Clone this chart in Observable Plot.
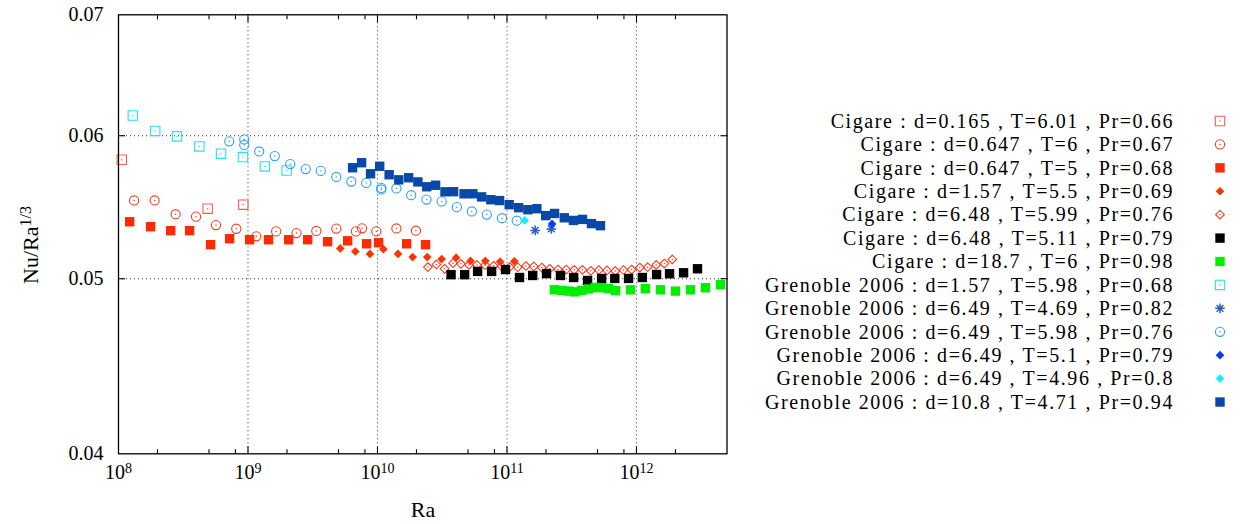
<!DOCTYPE html>
<html>
<head>
<meta charset="utf-8">
<script src="https://cdn.jsdelivr.net/npm/d3@7"></script>
<script src="https://cdn.jsdelivr.net/npm/@observablehq/plot@0.6"></script>
<style>
  body { margin: 0; background: #fff; }
  #chart svg { display: block; }
  #chart svg text { font-family: "Liberation Serif", serif; }
</style>
</head>
<body>
<div id="chart"></div>
<script>
// ---- Measurements: Nu/Ra^(1/3) versus Ra -------------------------------

// Cigare : d=0.165 , T=6.01 , Pr=0.66
const cigare1Ra = [1.06e8, 4.88e8, 9.20e8];
const cigare1Nu = [0.05819, 0.05467, 0.05495];

// Cigare : d=0.647 , T=6 , Pr=0.67
const cigare2Ra = [1.32e8, 1.90e8, 2.76e8, 3.97e8, 5.66e8, 8.12e8, 1.16e9, 1.65e9, 2.37e9, 3.37e9, 4.81e9, 6.82e9, 7.59e9, 9.79e9, 1.40e10, 1.98e10];
const cigare2Nu = [0.05525, 0.05525, 0.05429, 0.05412, 0.05354, 0.05329, 0.05278, 0.05311, 0.05300, 0.05314, 0.05330, 0.05311, 0.05332, 0.05311, 0.05331, 0.05316];

// Cigare : d=0.647 , T=5 , Pr=0.68
const cigare3Ra = [1.22e8, 1.77e8, 2.53e8, 3.54e8, 5.14e8, 7.21e8, 1.03e9, 1.44e9, 2.06e9, 2.89e9, 4.12e9, 5.88e9, 8.24e9, 1.02e10, 1.68e10, 2.35e10];
const cigare3Nu = [0.05377, 0.05343, 0.05316, 0.05316, 0.05222, 0.05262, 0.05255, 0.05255, 0.05255, 0.05255, 0.05242, 0.05248, 0.05228, 0.05235, 0.05228, 0.05222];

// Cigare : d=1.57 , T=5.5 , Pr=0.69
const cigare4Ra = [5.16e9, 6.74e9, 8.75e9, 1.11e10, 1.44e10, 1.87e10, 2.42e10, 3.13e10, 4.05e10, 5.23e10, 6.80e10, 8.85e10, 1.14e11];
const cigare4Nu = [0.05197, 0.05177, 0.05161, 0.05192, 0.05161, 0.05140, 0.05140, 0.05127, 0.05136, 0.05115, 0.05115, 0.05110, 0.05112];

// Cigare : d=6.48 , T=5.99 , Pr=0.76
const cigare5Ra = [2.45e10, 2.85e10, 3.30e10, 3.83e10, 4.41e10, 5.09e10, 5.87e10, 6.80e10, 7.88e10, 9.09e10, 1.05e11, 1.21e11, 1.40e11, 1.61e11, 1.86e11, 2.14e11, 2.48e11, 2.87e11, 3.31e11, 3.83e11, 4.44e11, 5.12e11, 5.92e11, 6.86e11, 7.93e11, 9.17e11, 1.06e12, 1.22e12, 1.42e12, 1.64e12, 1.89e12];
const cigare5Nu = [0.05075, 0.05092, 0.05064, 0.05100, 0.05096, 0.05089, 0.05089, 0.05087, 0.05083, 0.05079, 0.05075, 0.05074, 0.05082, 0.05079, 0.05072, 0.05064, 0.05059, 0.05059, 0.05057, 0.05057, 0.05051, 0.05056, 0.05053, 0.05050, 0.05056, 0.05059, 0.05072, 0.05074, 0.05089, 0.05098, 0.05125];

// Cigare : d=6.48 , T=5.11 , Pr=0.79
const cigare6Ra = [3.70e10, 4.71e10, 5.93e10, 7.61e10, 9.74e10, 1.25e11, 1.58e11, 2.02e11, 2.59e11, 3.27e11, 4.19e11, 5.38e11, 6.80e11, 8.69e11, 1.11e12, 1.43e12, 1.80e12, 2.31e12, 2.96e12];
const cigare6Nu = [0.05026, 0.05026, 0.05047, 0.05047, 0.05059, 0.05008, 0.05021, 0.05033, 0.05021, 0.05008, 0.04989, 0.05002, 0.05002, 0.05002, 0.05008, 0.05027, 0.05032, 0.05038, 0.05064];

// Cigare : d=18.7 , T=6 , Pr=0.98
const cigare7Ra = [2.32e11, 2.65e11, 3.00e11, 3.34e11, 3.78e11, 4.27e11, 4.81e11, 5.42e11, 6.09e11, 6.90e11, 8.99e11, 1.17e12, 1.53e12, 2.00e12, 2.61e12, 3.41e12, 4.45e12];
const cigare7Nu = [0.04930, 0.04926, 0.04922, 0.04917, 0.04926, 0.04935, 0.04945, 0.04943, 0.04937, 0.04925, 0.04930, 0.04937, 0.04930, 0.04922, 0.04930, 0.04943, 0.04962];

// Grenoble 2006 : d=1.57 , T=5.98 , Pr=0.68
const grenoble1Ra = [1.29e8, 1.92e8, 2.83e8, 4.21e8, 6.19e8, 9.15e8, 1.35e9, 1.99e9];
const grenoble1Nu = [0.06157, 0.06037, 0.05995, 0.05919, 0.05864, 0.05839, 0.05770, 0.05740];

// Grenoble 2006 : d=6.49 , T=4.69 , Pr=0.82
const grenoble2Ra = [1.65e11, 2.20e11];
const grenoble2Nu = [0.05318, 0.05328];

// Grenoble 2006 : d=6.49 , T=5.98 , Pr=0.76
const grenoble3Ra = [7.17e8, 9.36e8, 9.36e8, 1.22e9, 1.61e9, 2.12e9, 2.79e9, 3.65e9, 4.81e9, 6.28e9, 8.19e9, 1.07e10, 1.07e10, 1.40e10, 1.82e10, 2.39e10, 3.13e10, 4.10e10, 5.35e10, 6.98e10, 9.15e10, 1.19e11];
const grenoble3Nu = [0.05957, 0.05972, 0.05930, 0.05881, 0.05846, 0.05787, 0.05750, 0.05737, 0.05693, 0.05660, 0.05650, 0.05614, 0.05603, 0.05610, 0.05562, 0.05531, 0.05518, 0.05478, 0.05448, 0.05426, 0.05401, 0.05384];

// Grenoble 2006 : d=6.49 , T=5.1 , Pr=0.79
const grenoble4Ra = [2.23e11];
const grenoble4Nu = [0.05362];

// Grenoble 2006 : d=6.49 , T=4.96 , Pr=0.8
const grenoble5Ra = [1.37e11];
const grenoble5Nu = [0.05386];

// Grenoble 2006 : d=10.8 , T=4.71 , Pr=0.94
const grenoble6Ra = [6.42e9, 7.54e9, 8.84e9, 1.04e10, 1.23e10, 1.46e10, 1.74e10, 2.05e10, 2.40e10, 2.81e10, 3.32e10, 3.87e10, 4.66e10, 5.45e10, 6.37e10, 7.50e10, 8.77e10, 1.04e11, 1.23e11, 1.45e11, 1.70e11, 1.99e11, 2.33e11, 2.77e11, 3.26e11, 3.83e11, 4.49e11, 5.27e11];
const grenoble6Nu = [0.05760, 0.05797, 0.05716, 0.05771, 0.05709, 0.05672, 0.05687, 0.05657, 0.05622, 0.05633, 0.05586, 0.05587, 0.05572, 0.05572, 0.05550, 0.05530, 0.05524, 0.05495, 0.05474, 0.05460, 0.05467, 0.05419, 0.05434, 0.05404, 0.05386, 0.05393, 0.05364, 0.05350];

// Legend texts, in plotting order
const seriesNames = [
  "Cigare : d=0.165 , T=6.01 , Pr=0.66",
  "Cigare : d=0.647 , T=6 , Pr=0.67",
  "Cigare : d=0.647 , T=5 , Pr=0.68",
  "Cigare : d=1.57 , T=5.5 , Pr=0.69",
  "Cigare : d=6.48 , T=5.99 , Pr=0.76",
  "Cigare : d=6.48 , T=5.11 , Pr=0.79",
  "Cigare : d=18.7 , T=6 , Pr=0.98",
  "Grenoble 2006 : d=1.57 , T=5.98 , Pr=0.68",
  "Grenoble 2006 : d=6.49 , T=4.69 , Pr=0.82",
  "Grenoble 2006 : d=6.49 , T=5.98 , Pr=0.76",
  "Grenoble 2006 : d=6.49 , T=5.1 , Pr=0.79",
  "Grenoble 2006 : d=6.49 , T=4.96 , Pr=0.8",
  "Grenoble 2006 : d=10.8 , T=4.71 , Pr=0.94"
];

// Axis ticks
const decadeTicks = [1e8, 1e9, 1e10, 1e11, 1e12];
const gridRa = [1e9, 1e10, 1e11, 1e12];
const minorRa = [2e8, 5e8, 8e8, 2e9, 5e9, 8e9, 2e10, 5e10, 8e10, 2e11, 5e11, 8e11, 2e12];
const nuTicks = [0.04, 0.05, 0.06, 0.07];
const nuGrid = [0.05, 0.06];

// ---- Marker styles ------------------------------------------------------

// eight-armed star (a "+" and an "x" on top of each other)
const star8 = {
  draw(context, size) {
    const r = Math.sqrt(size / Math.PI);
    const d = r * Math.SQRT1_2;
    context.moveTo(-r, 0); context.lineTo(r, 0);
    context.moveTo(0, -r); context.lineTo(0, r);
    context.moveTo(-d, -d); context.lineTo(d, d);
    context.moveTo(-d, d); context.lineTo(d, -d);
  }
};

const markerStyles = [
  {symbol: d3.symbolSquare2, r: 6.0, stroke: "#f2604e", centre: true},
  {symbol: d3.symbolCircle, r: 4.6, stroke: "#ff3a1c", centre: true},
  {symbol: d3.symbolSquare, r: 5.3, fill: "#ff2a00"},
  {symbol: d3.symbolDiamond2, r: 3.9, fill: "#ff3300"},
  {symbol: d3.symbolDiamond2, r: 3.9, stroke: "#ff3a1c", centre: true},
  {symbol: d3.symbolSquare, r: 5.3, fill: "#000000"},
  {symbol: d3.symbolSquare, r: 5.3, fill: "#00ee00"},
  {symbol: d3.symbolSquare2, r: 6.0, stroke: "#20e4f2", centre: true},
  {symbol: star8, r: 4.8, stroke: "#2d5fb8", width: 1.5},
  {symbol: d3.symbolCircle, r: 4.6, stroke: "#27a3f5", centre: true},
  {symbol: d3.symbolDiamond2, r: 3.9, fill: "#0a3cf5"},
  {symbol: d3.symbolDiamond2, r: 3.9, fill: "#18eef8"},
  {symbol: d3.symbolSquare, r: 5.3, fill: "#0748a8"}
];

const seriesData = [
  [cigare1Ra, cigare1Nu], [cigare2Ra, cigare2Nu], [cigare3Ra, cigare3Nu],
  [cigare4Ra, cigare4Nu], [cigare5Ra, cigare5Nu], [cigare6Ra, cigare6Nu],
  [cigare7Ra, cigare7Nu], [grenoble1Ra, grenoble1Nu], [grenoble2Ra, grenoble2Nu],
  [grenoble3Ra, grenoble3Nu], [grenoble4Ra, grenoble4Nu], [grenoble5Ra, grenoble5Nu],
  [grenoble6Ra, grenoble6Nu]
].map(([ra, nu]) => ra.map((Ra, i) => ({Ra, Nu: nu[i]})));

const dotMarks = seriesData.flatMap((rows, i) => {
  const s = markerStyles[i];
  const marks = [
    Plot.dot(rows, {
      x: "Ra", y: "Nu", symbol: s.symbol, r: s.r,
      fill: s.fill ?? "none", stroke: s.stroke ?? "none", strokeWidth: s.width ?? 1.1
    })
  ];
  if (s.centre) marks.push(Plot.dot(rows, {x: "Ra", y: "Nu", r: 0.75, fill: s.stroke, stroke: "none"}));
  return marks;
});

const noText = () => "";
const dotted = {stroke: "#000", strokeOpacity: 0.8, strokeDasharray: "1,3"};
const serif = "Liberation Serif";

const svg = Plot.plot({
  width: 1243,
  height: 524,
  marginLeft: 118,
  marginRight: 516.5,
  marginTop: 14.3,
  marginBottom: 70.7,
  style: {fontFamily: serif, fontSize: "20px", background: "#fff", color: "#000", overflow: "visible"},
  x: {type: "log", domain: [1e8, 5e12]},
  y: {type: "log", domain: [0.04, 0.07]},
  marks: [
    Plot.ruleX(gridRa, dotted),
    Plot.ruleY(nuGrid, dotted),
    Plot.axisX({anchor: "bottom", ticks: gridRa, tickSize: -7, tickFormat: noText, label: null, strokeWidth: 1.1}),
    Plot.axisX({anchor: "top", ticks: gridRa, tickSize: -7, tickFormat: noText, label: null, strokeWidth: 1.1}),
    Plot.axisX({anchor: "bottom", ticks: minorRa, tickSize: -4, tickFormat: noText, label: null, strokeWidth: 1.1}),
    Plot.axisX({anchor: "top", ticks: minorRa, tickSize: -4, tickFormat: noText, label: null, strokeWidth: 1.1}),
    Plot.axisY({anchor: "left", ticks: nuGrid, tickSize: -7, tickFormat: noText, label: null, strokeWidth: 1.1}),
    Plot.axisY({anchor: "right", ticks: nuGrid, tickSize: -7, tickFormat: noText, label: null, strokeWidth: 1.1}),
    Plot.text(decadeTicks, {
      x: d => d, frameAnchor: "bottom", lineAnchor: "bottom", dy: 25,
      text: d => "10^" + Math.round(Math.log10(d)),
      fontFamily: serif, fontSize: 20, fill: "#000"
    }),
    Plot.text(nuTicks, {
      y: d => d, frameAnchor: "left", textAnchor: "end", dx: -15,
      text: d => d.toFixed(2), fontFamily: serif, fontSize: 20, fill: "#000"
    }),
    ...dotMarks,
    Plot.frame({stroke: "#000", strokeWidth: 1.3})
  ]
});

document.getElementById("chart").append(svg);

// ---- Decorations: exponents, axis titles, legend -------------------------
const root = d3.select(svg);

// turn "10^k" tick labels into a base with a raised exponent
root.selectAll("text").each(function () {
  const m = /^10\^(\d+)$/.exec(this.textContent);
  if (!m) return;
  const t = d3.select(this);
  t.selectAll("*").remove();
  t.text("10");
  t.append("tspan").attr("dy", "-0.45em").attr("font-size", "14px").text(m[1]);
});

const yTitle = root.append("text")
  .attr("transform", "translate(38,245) rotate(-90)")
  .attr("text-anchor", "middle")
  .attr("font-size", "22px")
  .attr("fill", "#000")
  .text("Nu/Ra");
yTitle.append("tspan").attr("dy", "-0.45em").attr("font-size", "16px").text("1/3");

root.append("text")
  .attr("x", 423).attr("y", 517)
  .attr("text-anchor", "middle")
  .attr("font-size", "22px")
  .attr("fill", "#000")
  .text("Ra");

const legend = root.append("g").attr("aria-label", "legend");
seriesNames.forEach((name, i) => {
  const cy = 121 + 23.42 * i;
  const s = markerStyles[i];
  legend.append("text")
    .attr("x", 1174).attr("y", cy).attr("dy", "0.34em")
    .attr("text-anchor", "end").attr("font-size", "20px").attr("fill", "#000")
    .attr("letter-spacing", "1.6px")
    .text(name);
  legend.append("path")
    .attr("transform", `translate(1220,${cy})`)
    .attr("d", d3.symbol(s.symbol, Math.PI * s.r * s.r)())
    .attr("fill", s.fill ?? "none")
    .attr("stroke", s.stroke ?? "none")
    .attr("stroke-width", s.width ?? 1.1);
  if (s.centre) {
    legend.append("circle").attr("cx", 1220).attr("cy", cy).attr("r", 0.75).attr("fill", s.stroke);
  }
});
</script>
</body>
</html>
